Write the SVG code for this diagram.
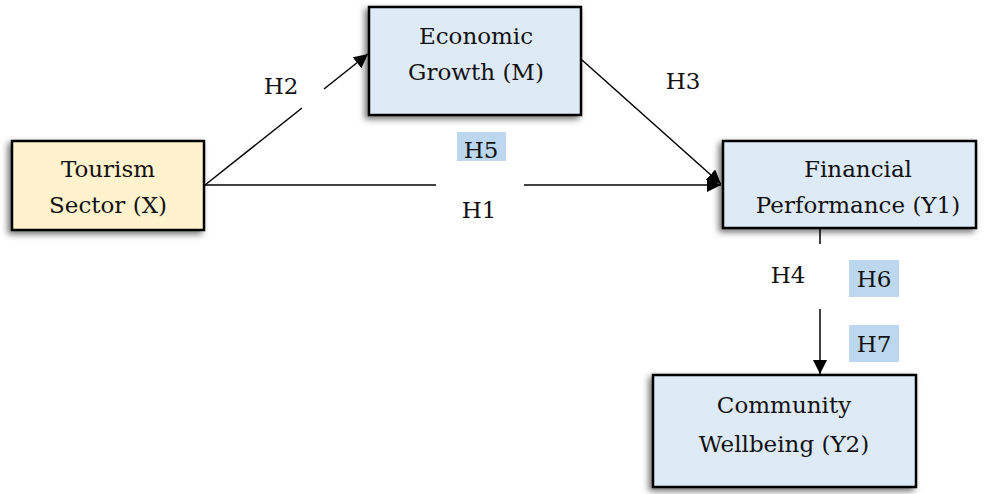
<svg xmlns="http://www.w3.org/2000/svg" width="993" height="494" viewBox="0 0 993 494">
<style>
.box{stroke:#000;stroke-width:2.5;filter:url(#sh)}
.x{fill:#fff2cc}
.m{fill:#deebf7}
text{font-family:"DejaVu Serif","Liberation Serif",serif;font-size:23px;fill:#111;text-anchor:middle}
.hl{fill:#bdd7ee}
.ln{stroke:#000;stroke-width:1.5;fill:none}
</style>
<defs>
<filter id="sh" x="-10%" y="-10%" width="120%" height="130%">
<feDropShadow dx="-3" dy="3" stdDeviation="3" flood-color="#000" flood-opacity="0.55"/>
</filter>
<marker id="ah" viewBox="0 0 10 10" refX="10" refY="5" markerWidth="14" markerHeight="14" markerUnits="userSpaceOnUse" orient="auto">
<path d="M0,0 L10,5 L0,10 z" fill="#000"/>
</marker>
</defs>
<g id="connectors">
<line class="ln" x1="205" y1="185" x2="302" y2="108"/>
<line class="ln" x1="324" y1="89" x2="368" y2="54" marker-end="url(#ah)"/>
<line class="ln" x1="205" y1="185" x2="436" y2="185"/>
<line class="ln" x1="524" y1="185" x2="721" y2="185" marker-end="url(#ah)"/>
<line class="ln" x1="582" y1="60" x2="721" y2="184" marker-end="url(#ah)"/>
<line class="ln" x1="820" y1="229" x2="820" y2="244"/>
<line class="ln" x1="820" y1="309" x2="820" y2="374" marker-end="url(#ah)"/>
</g>
<g id="labels">
<text x="281" y="94">H2</text>
<text x="683" y="89">H3</text>
<rect class="hl" x="457" y="132" width="49" height="29"/>
<text x="481" y="158">H5</text>
<text x="479" y="218">H1</text>
<text x="788" y="283">H4</text>
<rect class="hl" x="849" y="260" width="50" height="37"/>
<text x="874" y="287">H6</text>
<rect class="hl" x="849" y="325" width="50" height="37"/>
<text x="874" y="352">H7</text>
</g>
<g id="tourism">
<rect class="box x" x="12" y="141" width="192" height="89"/>
<text x="108" y="177">Tourism</text>
<text x="108" y="213">Sector (X)</text>
</g>
<g id="economic">
<rect class="box m" x="369" y="7" width="212" height="108"/>
<text x="476" y="44">Economic</text>
<text x="476" y="80">Growth (M)</text>
</g>
<g id="financial">
<rect class="box m" x="723" y="141" width="253" height="87"/>
<text x="858" y="177">Financial</text>
<text x="858" y="213">Performance (Y1)</text>
</g>
<g id="community">
<rect class="box m" x="653" y="375" width="263" height="112"/>
<text x="784" y="413">Community</text>
<text x="784" y="452">Wellbeing (Y2)</text>
</g>
</svg>
